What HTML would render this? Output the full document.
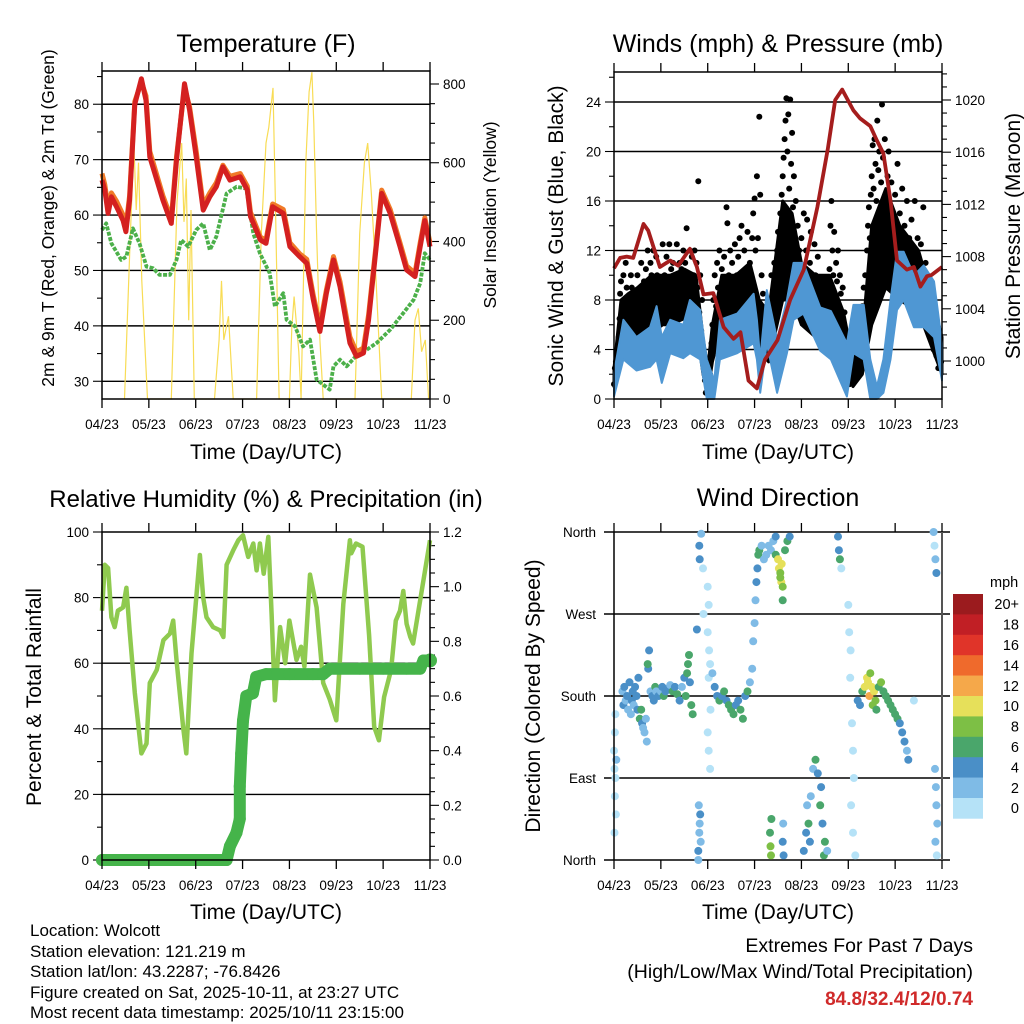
<!DOCTYPE html>
<html><head><meta charset="utf-8">
<style>
html,body{margin:0;padding:0;background:#fff;}
svg{display:block;font-family:"Liberation Sans",sans-serif;}
</style></head>
<body>
<svg id="chart" width="1024" height="1024" viewBox="0 0 1024 1024" xmlns="http://www.w3.org/2000/svg">
<rect width="1024" height="1024" fill="#fff"/>
<g id="layer"></g>
<text x="266" y="52" font-size="25" text-anchor="middle">Temperature (F)</text>
<text x="778" y="52" font-size="25" text-anchor="middle">Winds (mph) &amp; Pressure (mb)</text>
<text x="266" y="507" font-size="24" text-anchor="middle">Relative Humidity (%) &amp; Precipitation (in)</text>
<text x="778" y="506" font-size="25" text-anchor="middle">Wind Direction</text>
<text x="266" y="459" font-size="21" text-anchor="middle">Time (Day/UTC)</text>
<text x="778" y="459" font-size="21" text-anchor="middle">Time (Day/UTC)</text>
<text x="266" y="919" font-size="21" text-anchor="middle">Time (Day/UTC)</text>
<text x="778" y="919" font-size="21" text-anchor="middle">Time (Day/UTC)</text>
<text transform="translate(54,218) rotate(-90)" font-size="17.5" text-anchor="middle">2m &amp; 9m T (Red, Orange) &amp; 2m Td (Green)</text>
<text transform="translate(496,215) rotate(-90)" font-size="17.5" text-anchor="middle">Solar Insolation (Yellow)</text>
<text transform="translate(563,236) rotate(-90)" font-size="21" text-anchor="middle">Sonic Wind &amp; Gust (Blue, Black)</text>
<text transform="translate(1020,236) rotate(-90)" font-size="21" text-anchor="middle">Station Pressure (Maroon)</text>
<text transform="translate(41,697) rotate(-90)" font-size="21" text-anchor="middle">Percent &amp; Total Rainfall</text>
<text transform="translate(540,696) rotate(-90)" font-size="21" text-anchor="middle">Direction (Colored By Speed)</text>
<g font-size="17">
<text x="30" y="936">Location: Wolcott</text>
<text x="30" y="957">Station elevation: 121.219 m</text>
<text x="30" y="977">Station lat/lon: 43.2287; -76.8426</text>
<text x="30" y="998">Figure created on Sat, 2025-10-11, at 23:27 UTC</text>
<text x="30" y="1018">Most recent data timestamp: 2025/10/11 23:15:00</text>
</g>
<g text-anchor="end">
<text x="973" y="952" font-size="19.5">Extremes For Past 7 Days</text>
<text x="973" y="978" font-size="19.5">(High/Low/Max Wind/Total Precipitation)</text>
<text x="973" y="1005" font-size="19" font-weight="bold" fill="#d02a2a">84.8/32.4/12/0.74</text>
</g>
</svg>
<script>
const monthLabels=["04/23","05/23","06/23","07/23","08/23","09/23","10/23","11/23"];
// Temperature (time in months since 04/23)
const tempT=[0,0.06,0.13,0.2,0.31,0.45,0.51,0.59,0.7,0.84,0.94,1.02,1.3,1.48,1.59,1.76,1.87,2.01,2.16,2.3,2.44,2.58,2.73,2.95,3.1,3.17,3.38,3.5,3.64,3.87,4.01,4.22,4.37,4.51,4.65,4.79,4.94,5.08,5.29,5.43,5.58,5.69,5.86,5.97,6.15,6.36,6.5,6.68,6.79,6.89,7];
const tempRed=[66.3,64.5,60.3,63.3,61.5,59,57,62.7,80,84.6,80.7,70.5,62.7,58.5,69.9,83.7,78.9,70.5,60.9,63.3,65.1,68.7,66.3,66.9,64.5,59.7,55.5,54.9,61.5,60.3,54.3,52.5,51.3,44.7,39,45.9,51.9,47.1,36.9,34.5,35.1,41.1,54.9,63.9,60.3,54.3,50.1,48.9,54.3,59,54.3];
const tempOrange=[67.5,65.5,61.3,64,62.5,60,57.8,63.5,80.5,84,81.5,71.5,63.5,59.3,70.5,83,79.5,71.5,61.8,64,65.8,69,67,67.5,65.2,60.5,56,55.5,62,61,55,53,52,45.5,40,46.5,52.5,48,38,35.3,36,42,55.5,64.5,61,55,50.8,49.5,55,59.5,55];
const dewT=[0,0.09,0.2,0.41,0.52,0.66,0.8,0.95,1.09,1.23,1.45,1.59,1.69,1.84,2.01,2.16,2.3,2.44,2.66,2.87,3.08,3.23,3.37,3.58,3.69,3.87,3.94,4.12,4.29,4.44,4.58,4.86,4.94,5.08,5.22,5.48,5.65,5.86,6.15,6.43,6.65,6.79,6.89,7];
const dewV=[57.3,58.5,54.9,51.9,52.5,57.6,54.9,50.7,50.4,49.2,49.2,51.9,55.5,54.3,57.3,58.5,53.7,56.1,63.9,65.1,64.8,56.7,53.1,49.5,43.5,45.9,41.1,39.9,36.3,37.5,30.3,28.5,32.7,33.9,32.7,35.1,35.7,36.9,39.3,42.3,44.7,47.7,53.1,51.9];
const solarT=[0.48,0.6,0.68,0.73,0.78,0.85,0.97,1.48,1.6,1.7,1.75,1.8,1.85,1.9,1.97,2.4,2.5,2.55,2.6,2.7,2.8,3.3,3.4,3.5,3.56,3.65,3.7,3.78,4.0,4.05,4.1,4.2,4.25,4.35,4.42,4.48,4.52,4.58,4.65,4.72,5.4,5.5,5.6,5.67,5.75,5.85,5.97,6.6,6.68,6.75,6.82,6.9,6.97];
const solarV=[0,400,650,480,600,300,0,0,500,650,450,560,200,480,0,0,150,300,150,210,0,0,420,650,690,790,500,0,0,180,260,120,0,600,780,830,700,420,150,0,0,420,600,650,520,300,0,0,200,230,120,150,0];
// Winds & pressure
const pressT=[0,0.13,0.27,0.41,0.63,0.73,0.98,1.2,1.37,1.62,1.77,1.91,2.12,2.34,2.55,2.7,2.87,3.05,3.22,3.49,3.76,4.05,4.34,4.56,4.72,4.87,5.11,5.25,5.47,5.61,5.75,5.9,6.04,6.25,6.4,6.54,6.68,6.78,7];
const pressV=[1007.1,1007.9,1008.0,1007.9,1010.5,1010.0,1007.2,1007.7,1007.3,1008.6,1007.2,1005.1,1005.2,1002.6,1001.7,1002.2,998.5,997.9,1000.1,1001.6,1004.7,1007,1011.8,1016.2,1020,1020.8,1019.2,1018.6,1018,1016.9,1015.9,1012.3,1007.7,1007,1007.2,1005.7,1006.5,1006.6,1007.2];
const windT=[0,0.2,0.48,0.77,0.91,1.02,1.2,1.48,1.62,1.84,1.98,2.14,2.26,2.63,2.98,3.05,3.12,3.26,3.48,3.69,3.83,4.04,4.4,4.63,4.97,5.11,5.33,5.47,5.61,5.75,5.9,6.04,6.18,6.4,6.61,6.83,7];
const windHi=[2.1,6.4,5,5.8,7.5,5,6.4,6,8,7.2,3.2,1.5,6.4,6.9,8.5,6.4,3.2,8.8,4.8,8,11,11,7.4,7.1,4.5,7.6,7.6,3.2,1,3.2,8,11.9,11.9,10,10.8,9.5,4.5];
const windLo=[0.2,3.2,2.3,2.6,3.2,1.3,3.7,3.3,3.7,3.2,0,0,3.2,3.7,4.5,3.2,0.5,4.5,0.5,3.7,6.4,6.9,3.9,3.2,0.2,3.7,3.2,0,0,0.5,3.2,7.2,8,5.8,5.8,5,1.5];
// dense core of gust cloud (mph)
const gustCoreT=[0,0.15,0.3,0.5,0.8,1.0,1.2,1.5,1.75,1.9,2.0,2.1,2.3,2.6,2.9,3.1,3.3,3.6,3.8,4.0,4.3,4.6,4.9,5.1,5.3,5.5,5.8,6.1,6.5,6.8,7];
const gustCoreLo=[1,3.5,4,5,5.5,6,6,6.5,6,2,0.5,3,6,6,6,4,3,8,8,6,5,6,3,1,2,6,9,8,7,4,2];
const gustCoreHi=[2.5,8,8.5,9,10,10,10,10.5,10,5,2.5,6,10,10,11,8,7,16,15,11,10,10,7,3,5,14,17,14,12,8,5];
const gustT=[0,0.02,0.04,0.05,0.07,0.08,0.1,0.12,0.13,0.15,0.17,0.18,0.2,0.22,0.24,0.25,0.27,0.28,0.3,0.32,0.34,0.36,0.38,0.4,0.42,0.44,0.46,0.48,0.5,0.52,0.54,0.56,0.58,0.6,0.62,0.64,0.66,0.68,0.7,0.72,0.74,0.76,0.78,0.8,0.82,0.84,0.86,0.88,0.9,0.92,0.95,0.97,0.99,1.02,1.04,1.06,1.08,1.1,1.12,1.14,1.16,1.18,1.2,1.22,1.24,1.26,1.28,1.3,1.32,1.34,1.36,1.38,1.4,1.42,1.44,1.46,1.48,1.5,1.52,1.55,1.58,1.6,1.62,1.64,1.66,1.68,1.7,1.72,1.74,1.76,1.78,1.8,1.82,1.84,1.86,1.88,1.9,1.92,1.94,1.96,1.98,2.0,2.02,2.05,2.08,2.1,2.12,2.15,2.18,2.2,2.22,2.25,2.28,2.3,2.32,2.35,2.38,2.4,2.42,2.45,2.48,2.5,2.52,2.55,2.58,2.6,2.62,2.65,2.68,2.7,2.72,2.75,2.78,2.8,2.82,2.85,2.88,2.9,2.92,2.95,2.97,3.0,3.02,3.05,3.07,3.1,3.12,3.15,3.18,3.2,3.22,3.25,3.28,3.3,3.33,3.36,3.4,3.42,3.45,3.48,3.5,3.52,3.55,3.58,3.6,3.62,3.64,3.66,3.68,3.7,3.72,3.74,3.76,3.78,3.8,3.82,3.84,3.86,3.88,3.9,3.92,3.95,3.98,4.0,4.02,4.05,4.08,4.1,4.12,4.15,4.18,4.2,4.22,4.25,4.28,4.3,4.32,4.35,4.38,4.4,4.42,4.45,4.48,4.5,4.52,4.55,4.58,4.6,4.62,4.64,4.66,4.68,4.7,4.72,4.74,4.76,4.78,4.8,4.82,4.84,4.86,4.88,4.9,4.92,4.95,4.98,5.0,5.03,5.06,5.1,5.14,5.18,5.22,5.26,5.3,5.33,5.36,5.4,5.42,5.44,5.46,5.48,5.5,5.52,5.54,5.56,5.58,5.6,5.62,5.64,5.66,5.68,5.7,5.72,5.74,5.76,5.78,5.8,5.82,5.84,5.86,5.88,5.9,5.92,5.95,5.98,6.0,6.02,6.05,6.08,6.1,6.12,6.15,6.18,6.2,6.22,6.25,6.28,6.3,6.32,6.35,6.38,6.4,6.42,6.45,6.48,6.5,6.52,6.55,6.58,6.6,6.62,6.65,6.68,6.7,6.72,6.75,6.78,6.8,6.82,6.85,6.88,6.9,6.92,6.95,6.98];
const gustV=[1.2,2.5,3,1.8,4,2.2,5,6.5,8.5,9.5,7,4.5,10,8,6,11,9,7.5,5.5,8,6,10,9,4.5,7,5.5,8.5,6.5,10,7.5,5,9,11,8,6,9.5,7,10.5,8.5,12,9,7.5,11,10,8,12,9.5,7,11.5,10,6.5,4,6,9,12.5,7,10,8,11.5,6.5,9.5,12.5,8,10.5,7,11,9,8,10,12.5,7.5,9.5,11,8.5,10.5,7,12,9,11,13.8,10,8,12,9.5,11.5,7.5,10,12,8.5,11,9,17.6,7,10,5.5,8,4,2.5,1.5,0.5,2,1,3,2,4.5,6,8,10,7.5,11,9,12,8.5,10.5,7,11.5,9,15.5,14.2,10,12,8,11,9.5,12.5,7.5,10,11.5,13,8.5,14,9.5,12,7,10.5,13.5,8,11,6.5,13,15,16.2,12,18,13,22.8,16.5,10,8.5,7,5,6.5,4,8,5.5,10,7,11,9,12,13.5,11,15,16.5,18,19.5,21,22.5,24.3,20,23,17,24.2,19,21.5,15.5,18,13,16,11,14,12,9,13,10,15,8.5,12,14.5,7,11,13.5,9,6,12.5,10,8,11.5,7.5,9.5,6,8,5.5,7,4.5,6,9,10.5,14,16,12,10,13.5,8,11,9.5,12,7,10,8.5,6,9,5,7,4,3,2,1.2,1.8,2.2,2.5,3,4.5,6,7.5,9,10,12,14,15.5,13,16.5,18,20.5,17,21,19,16,22.5,18.5,20,15,17.5,23.8,19.5,14,21,16,13,18,20,12.5,15,17.5,11,14,16.5,12,19,13.5,15,10,17,12.5,14,9,16,11,13,8.5,14.5,10,12,16,9.5,13,11,8,12.5,10,15.5,7.5,11,9,7,8.5,6,5,7.5,4,6.5,3.5,5,2.5,4,3];
// Humidity & precip
const rhT=[0,0.06,0.13,0.2,0.27,0.34,0.45,0.52,0.59,0.7,0.84,0.95,1.02,1.17,1.31,1.45,1.52,1.59,1.73,1.8,1.91,2.09,2.16,2.23,2.37,2.52,2.59,2.66,2.8,2.91,3.01,3.12,3.23,3.3,3.37,3.45,3.55,3.62,3.69,3.8,3.91,4.0,4.15,4.25,4.32,4.44,4.58,4.72,4.86,5.0,5.15,5.29,5.32,5.42,5.56,5.7,5.81,5.91,6.02,6.17,6.27,6.36,6.43,6.5,6.58,6.64,7];
const rhV=[76,90,89,74,71,76,77,83,70,51,32.5,35.5,54,58,67,69,73,61,40.6,32.5,63,93,80,74,71,70,68,90,94.4,97.5,99,92.4,96.5,88.3,96.5,87.3,98.5,75,48.7,71,60,73,61,65,59,87,77,54,49,42.6,78,97.5,93.5,96.5,95.5,68.5,40.6,36.5,49.7,58,73,76,82,72,68,66,97.5];
const prT=[0,0.5,1,1.5,2,2.4,2.66,2.73,2.87,2.94,2.94,2.97,3.01,3.08,3.22,3.29,3.5,4,4.5,4.72,4.86,5.5,6,6.5,6.79,6.86,7];
const prV=[0,0,0,0,0,0,0,0.05,0.1,0.15,0.27,0.39,0.51,0.6,0.61,0.67,0.68,0.68,0.68,0.68,0.7,0.7,0.7,0.7,0.7,0.73,0.73];
// Wind direction (degrees) colored by speed (mph)
const dirT=[0,0.01,0.02,0.03,0.02,0.04,0.03,0.01,0.05,0.18,0.2,0.22,0.25,0.28,0.3,0.33,0.36,0.38,0.4,0.42,0.45,0.48,0.5,0.52,0.55,0.58,0.6,0.62,0.65,0.68,0.7,0.75,0.73,0.72,0.78,0.82,0.85,0.88,0.9,0.95,1.0,1.03,1.06,1.1,1.15,1.2,1.25,1.3,1.35,1.4,1.45,1.5,1.53,1.56,1.58,1.6,1.62,1.65,1.68,1.77,1.8,1.82,1.84,1.83,1.85,1.81,1.8,1.82,1.83,1.86,1.9,1.91,2.0,2.02,2.0,2.03,2.05,2.02,2.06,2.0,2.02,2.05,2.1,2.15,2.2,2.25,2.3,2.35,2.4,2.45,2.5,2.55,2.6,2.65,2.7,2.75,2.8,2.85,2.9,2.95,2.97,3.0,3.02,3.04,3.06,3.08,3.1,3.15,3.2,3.25,3.3,3.35,3.4,3.45,3.45,3.5,3.52,3.55,3.57,3.6,3.58,3.65,3.7,3.75,3.6,3.55,3.33,3.34,3.35,3.36,3.6,3.61,3.62,4.05,4.1,4.12,4.15,4.18,4.2,4.25,4.3,4.35,4.4,4.45,4.5,4.48,4.42,4.55,4.78,4.8,4.82,4.85,5.0,5.02,5.05,5.04,5.08,5.1,5.12,5.06,5.1,5.15,5.2,5.25,5.3,5.35,5.4,5.42,5.45,5.47,5.5,5.52,5.55,5.58,5.6,5.65,5.7,5.75,5.8,5.85,5.9,5.95,6.0,6.05,6.1,6.15,6.2,6.25,6.28,6.4,6.82,6.84,6.86,6.88,6.85,6.87,6.88,6.9,6.86,6.89];
const dirD=[120,100,140,90,70,50,160,30,110,185,170,190,175,180,165,195,160,175,185,170,190,180,165,200,155,165,150,145,140,155,130,230,210,215,185,180,175,190,185,180,185,190,180,185,188,192,185,190,182,175,190,200,180,205,215,225,195,170,160,253,10,30,50,40,20,60,0,345,330,358,320,270,300,280,250,230,215,200,165,140,120,100,205,190,180,175,180,185,175,170,165,160,170,175,165,155,180,185,195,210,240,260,285,305,320,335,340,345,330,335,345,340,350,355,335,330,320,315,305,300,325,340,350,355,285,310,30,15,5,45,20,40,5,10,30,60,40,20,70,100,110,95,60,40,20,5,80,10,355,340,330,320,280,250,230,200,150,120,90,60,30,5,175,170,185,190,200,195,180,205,190,170,185,175,165,190,195,185,180,175,170,165,160,155,150,140,130,120,110,175,360,345,330,315,100,80,60,40,20,5];
const dirS=[1,1,1,1,1,1,1,1,2,3,5,4,3,5,3,4,3,5,4,3,5,4,4,4,7,6,4,3,2,3,3,4,4,7,3,4,4,6,3,4,3,4,6,4,4,3,6,5,7,4,3,5,6,7,6,6,4,7,6,4,4,3,4,3,2,2,3,4,4,2,1,1,1,1,1,1,1,1,1,1,1,1,3,4,4,6,5,6,4,6,7,6,4,5,6,6,4,6,3,3,2,2,3,4,4,6,6,3,2,2,2,2,3,4,6,10,10,9,10,8,10,7,6,4,7,8,7,8,8,6,4,3,4,4,5,3,6,4,2,3,6,5,6,5,6,7,4,2,4,4,6,1,1,1,1,1,1,1,1,1,1,1,4,5,6,10,11,10,12,8,10,8,11,9,6,7,8,6,7,6,7,6,7,6,5,4,4,3,4,1,2,1,2,4,2,3,2,2,2,1];
const speedColors=["#b5e2f7","#7fbbe6","#4a8fc7","#4aa66b","#7dbf45","#e6e05a","#f5a84a","#ef6a2c","#e03429","#c11f25","#9b1b1e"];
const speedLabels=["0","2","4","6","8","10","12","14","16","18","20+"];

const NS="http://www.w3.org/2000/svg";
const layer=document.getElementById('layer');
function mk(tag,attrs,parent){const e=document.createElementNS(NS,tag);for(const k in attrs)e.setAttribute(k,attrs[k]);(parent||layer).appendChild(e);return e;}
function txt(s,attrs,parent){const e=mk('text',attrs,parent);e.textContent=s;return e;}
function pathFrom(ts,vs,xf,yf){return ts.map((t,i)=>(i?'L':'M')+xf(t).toFixed(1)+','+yf(vs[i]).toFixed(1)).join(' ');}
function bandFrom(ts,hi,lo,xf,yf){return ts.map((t,i)=>xf(t).toFixed(1)+','+yf(hi[i]).toFixed(1)).concat(ts.map((t,i)=>xf(t).toFixed(1)+','+yf(lo[i]).toFixed(1)).reverse()).join(' ');}

function timeAxis(x0,x1,y0,y1,name){
  const g=mk('g',{});
  
  
  monthLabels.forEach((m,i)=>{
    const x=x0+i*(x1-x0)/7;
    mk('line',{x1:x,y1:y1,x2:x,y2:y1+9,stroke:'#000','stroke-width':1.3},g);
    mk('line',{x1:x,y1:y0,x2:x,y2:y0-9,stroke:'#000','stroke-width':1.3},g);
    const t=txt(m,{x:x,y:y1+30,'font-size':13.5,'text-anchor':'middle'},g);
    
    
  });
}
function vAxis(side,x,y0,y1,vmin,vmax,major,minor,fmt,name,grid,gx0,gx1){
  const g=mk('g',{});
  
  
  const yf=v=>y1-(v-vmin)/(vmax-vmin)*(y1-y0);
  const dir=side==='left'?-1:1;
  for(let v=vmin;v<=vmax+1e-9;v+=minor){
    const isMaj=Math.abs(Math.round(v/major)*major-v)<1e-6;
    const y=yf(v);
    mk('line',{x1:x,y1:y,x2:x+dir*(isMaj?9:5),y2:y,stroke:'#000','stroke-width':1.1},g);
    if(isMaj){
      if(grid&&v>vmin+1e-9&&v<vmax-1e-9) mk('line',{x1:gx0,y1:y,x2:gx1,y2:y,stroke:'#000','stroke-width':1.4},g);
      const t=txt(fmt(v),{x:x+dir*13,y:y+5,'font-size':13.5,'text-anchor':side==='left'?'end':'start'},g);
      
      
    }
  }
}
function frame(x0,y0,x1,y1,name){
  const r=mk('rect',{x:x0,y:y0,width:x1-x0,height:y1-y0,fill:'none',stroke:'#000','stroke-width':1.5});
  
  
}

// ---------- Panel 1: Temperature ----------
(function(){
  const x0=102,x1=430,y0=71,y1=399;
  const xf=t=>x0+t/7*(x1-x0);
  const yT=v=>y1-(v-26.8)/(86.0-26.8)*(y1-y0);
  const yS=v=>y1-v/833*(y1-y0);
  const g=mk('g',{});
  
  
  [30,35,40,45,50,55,60,65,70,75,80,85].forEach(v=>{
    const y=yT(v), maj=v%10===0;
    mk('line',{x1:x0,y1:y,x2:x0-(maj?9:5),y2:y,stroke:'#000','stroke-width':1.1},g);
    if(maj){mk('line',{x1:x0,y1:y,x2:x1,y2:y,stroke:'#000','stroke-width':1.4},g);
      const t=txt(String(v),{x:x0-13,y:y+5,'font-size':13.5,'text-anchor':'end'},g);
      
      }
  });
  vAxis('right',x1,y0,y1,0,833,200,50,v=>String(Math.round(v)),"solar-right-axis",false);
  const solar=mk('path',{d:pathFrom(solarT,solarV,xf,yS),fill:'none',stroke:'#f8dc55','stroke-width':1.2});
  
  
  const dew=mk('path',{d:pathFrom(dewT,dewV,xf,yT),fill:'none',stroke:'#4cb04a','stroke-width':3.8,'stroke-dasharray':'4 1.5','stroke-linejoin':'round'});
  
  
  const or=mk('path',{d:pathFrom(tempT,tempOrange,xf,yT),fill:'none',stroke:'#f07a28','stroke-width':5,'stroke-linejoin':'round'});
  
  
  const rd=mk('path',{d:pathFrom(tempT,tempRed,xf,yT),fill:'none',stroke:'#d42020','stroke-width':5,'stroke-linejoin':'round'});
  
  
  frame(x0,y0,x1,y1,'temperature-plot-frame');
  timeAxis(x0,x1,y0,y1,'temperature');
})();

// ---------- Panel 2: Winds & Pressure ----------
(function(){
  const x0=614,x1=942,y0=72,y1=399;
  const xf=t=>x0+t/7*(x1-x0);
  const wmax=(y1-y0)/12.375;
  const yW=v=>y1-v/wmax*(y1-y0);
  const yP=p=>361-(p-1000)*13.05;
  vAxis('left',x0,y0,y1,0,wmax,4,2,v=>String(Math.round(v)),"wind-left-axis",true,x0,x1);
  const pg=mk('g',{});
  
  
  for(let p=998;p<=1022;p++){const y=yP(p);if(y<y0||y>y1)continue;const maj=p%4===0;
    mk('line',{x1:x1,y1:y,x2:x1+(maj?9:5),y2:y,stroke:'#000','stroke-width':1.1},pg);
    if(maj){const t=txt(String(p),{x:x1+13,y:y+5,'font-size':13.5},pg);
      
      }}
  const core=mk('polygon',{points:bandFrom(gustCoreT,gustCoreHi,gustCoreLo,xf,yW),fill:'#000',stroke:'#000','stroke-width':3,'stroke-linejoin':'round'});
  
  
  const gg=mk('g',{fill:'#000'});
  
  
  gustT.forEach((t,i)=>{const c=mk('circle',{cx:xf(t).toFixed(1),cy:yW(gustV[i]).toFixed(1),r:3},gg);
    
    });
  const wb=mk('polygon',{points:bandFrom(windT,windHi,windLo,xf,yW),fill:'#4f97d3',stroke:'#4f97d3','stroke-width':2,'stroke-linejoin':'round'});
  
  
  const pr=mk('path',{d:pathFrom(pressT,pressV,xf,yP),fill:'none',stroke:'#a51d1d','stroke-width':3.8,'stroke-linejoin':'round'});
  
  
  frame(x0,y0,x1,y1,'winds-plot-frame');
  timeAxis(x0,x1,y0,y1,'winds');
})();

// ---------- Panel 3: Humidity & Precip ----------
(function(){
  const x0=102,x1=430,y0=532,y1=860;
  const xf=t=>x0+t/7*(x1-x0);
  const yR=v=>y1-v/100*(y1-y0);
  const yPr=v=>y1-v/1.2*(y1-y0);
  vAxis('left',x0,y0,y1,0,100,20,10,v=>String(Math.round(v)),"humidity-left-axis",true,x0,x1);
  vAxis('right',x1,y0,y1,0,1.2,0.2,0.05,v=>v.toFixed(1),"precip-right-axis",false);
  const rh=mk('path',{d:pathFrom(rhT,rhV,xf,yR),fill:'none',stroke:'#8fca4f','stroke-width':4.5,'stroke-linejoin':'round'});
  
  
  const pl=mk('path',{d:pathFrom(prT,prV,xf,yPr),fill:'none',stroke:'#45b44a','stroke-width':12,'stroke-linejoin':'round','stroke-linecap':'round'});
  
  
  prT.forEach((t,i)=>{const c=mk('circle',{cx:xf(t),cy:yPr(prV[i]),r:i===prT.length-1?7:6,fill:'#45b44a'});
    
    });
  frame(x0,y0,x1,y1,'humidity-plot-frame');
  timeAxis(x0,x1,y0,y1,'humidity');
})();

// ---------- Panel 4: Wind Direction ----------
(function(){
  const x0=614,x1=942,y0=532,y1=860;
  const xf=t=>x0+t/7*(x1-x0);
  const yD=d=>y1-d/360*(y1-y0);
  const g=mk('g',{});
  
  
  const dirLabels=["North","East","South","West","North"];
  dirLabels.forEach((s,i)=>{const y=yD(i*90);
    mk('line',{x1:604,y1:y,x2:950,y2:y,stroke:'#000','stroke-width':1.4},g);
    const t=txt(s,{x:596,y:y+5,'font-size':13.5,'text-anchor':'end'},g);
    
    });
  const pg=mk('g',{});
  
  
  dirT.forEach((t,i)=>{const idx=Math.min(10,Math.floor(dirS[i]/2));
    const c=mk('circle',{cx:xf(t).toFixed(1),cy:yD(dirD[i]).toFixed(1),r:4,fill:speedColors[idx]},pg);
    
    });
  mk('line',{x1:x0,y1:y0,x2:x0,y2:y1,stroke:'#000','stroke-width':1.5});
  mk('line',{x1:x1,y1:y0,x2:x1,y2:y1,stroke:'#555','stroke-width':2});
  timeAxis(x0,x1,y0,y1,'direction');
  const cb=mk('g',{});
  
  
  txt('mph',{x:990,y:587,'font-size':14.5},cb);
  const top=594,bh=20.4;
  for(let k=10;k>=0;k--){const y=top+(10-k)*bh;
    const r=mk('rect',{x:953,y:y,width:30,height:bh+0.3,fill:speedColors[k]},cb);
    
    
    const t=txt(speedLabels[k],{x:1019,y:y+bh/2+5,'font-size':14.5,'text-anchor':'end'},cb);
    
    }
})();
</script>
</body></html>
